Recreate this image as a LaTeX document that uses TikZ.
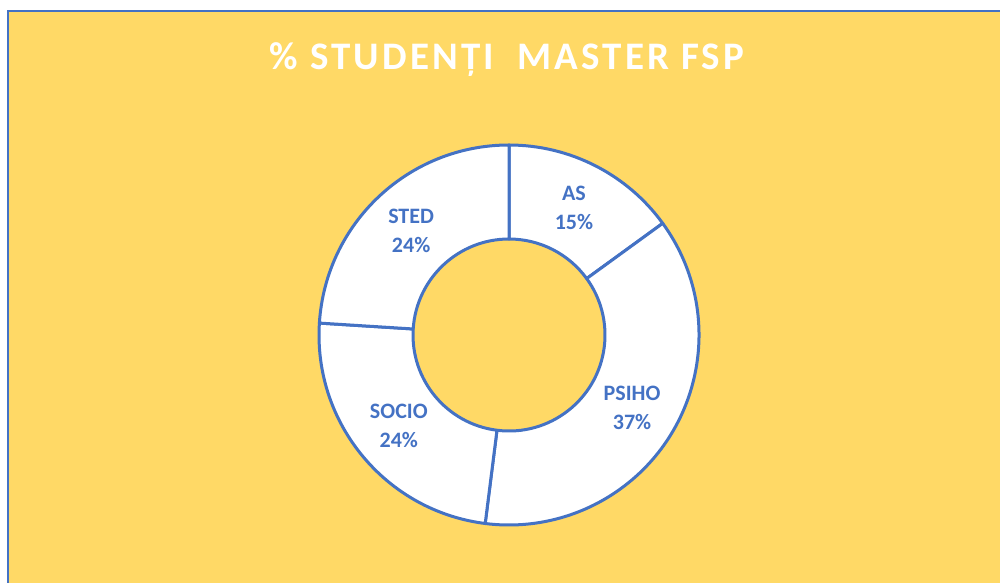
\documentclass[tikz,border=0pt]{standalone}
\usepackage{fontspec}
\setmainfont{Carlito}
\usetikzlibrary{calc}

\definecolor{chartyellow}{HTML}{FFD966}
\definecolor{chartblue}{HTML}{4472C4}

\tikzset{
  slice/.style={fill=white, draw=chartblue, line width=3pt, line join=round},
  slicelabel/.style={text=chartblue, align=center,
    font=\bfseries\fontsize{22}{29}\selectfont},
  charttitle/.style={text=white, anchor=base,
    font=\bfseries\fontsize{39}{39}\selectfont\addfontfeature{LetterSpace=8}}
}

\begin{document}
\begin{tikzpicture}[x=1pt,y=1pt]
  \useasboundingbox (0,0) rectangle (1000,582);
  \clip (0,0) rectangle (1000,582);
  \fill[white] (0,0) rectangle (1000,582);
  % chart area
  \draw[fill=chartyellow, draw=chartblue, line width=2pt] (7.5,-20) rectangle (1020,570.5);
  \node[charttitle] (title) at (507,512) {\% STUDENȚI\ \ MASTER FSP};
  % donut
  \coordinate (c) at (509,247);
  \foreach \name/\pct/\a/\b in {AS/15/90/36, PSIHO/37/36/-97.2,
      SOCIO/24/-97.2/-183.6, STED/24/-183.6/-270} {
    \draw[slice] ($(c)+(\a:190)$) arc[start angle=\a, end angle=\b, radius=190]
      -- ($(c)+(\b:96)$) arc[start angle=\b, end angle=\a, radius=96] -- cycle;
    \pgfmathsetmacro\mid{(\a+\b)/2}
    \node[slicelabel] (\name) at ($(c)+(\mid:143)$) {\name\\\pct\%};
  }
\end{tikzpicture}
\end{document}
